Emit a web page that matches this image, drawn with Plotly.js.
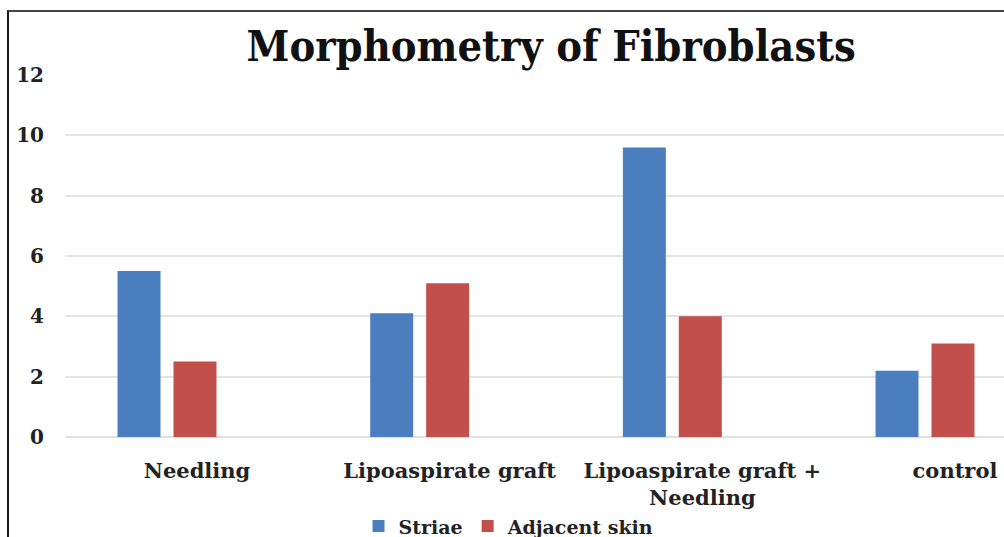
<!DOCTYPE html>
<html>
<head>
<meta charset="utf-8">
<script src="https://cdn.plot.ly/plotly-3.0.1.min.js"></script>
<style>
html,body{margin:0;padding:0;background:#fff;}
#wrap{position:relative;width:1004px;height:537px;overflow:hidden;}
#chart{position:absolute;left:0;top:0;width:1004px;height:537px;}
#frame{position:absolute;left:7px;top:10px;width:1010px;height:540px;border-left:2px solid #1a1a1a;border-top:2px solid #444;pointer-events:none;}
</style>
</head>
<body>
<div id="wrap"><div id="chart"></div><div id="frame"></div></div>
<script>
const categories = ["Needling", "Lipoaspirate graft", "Lipoaspirate graft +<br>Needling", "control"];
const striae = [5.5, 4.1, 9.6, 2.2];
const adjacentSkin = [2.5, 5.1, 4.0, 3.1];
const seriesNames = ["Striae", "Adjacent skin"];
const yTicks = [0, 2, 4, 6, 8, 10, 12];

const FONT = "DejaVu Serif, serif";
const TITLEFONT = "DejaVu Serif Condensed, DejaVu Serif, serif";

const traces = [
  {type: "bar", name: seriesNames[0], x: categories, y: striae, marker: {color: "#4a7ebf"}},
  {type: "bar", name: seriesNames[1], x: categories, y: adjacentSkin, marker: {color: "#c24f4c"}}
];

const layout = {
  width: 1004, height: 537,
  margin: {l: 65, r: 0, t: 75, b: 100},
  paper_bgcolor: "#ffffff", plot_bgcolor: "#ffffff",
  title: {text: "<b>Morphometry of Fibroblasts</b>", font: {family: TITLEFONT, size: 43, color: "#111"}, x: 0.549, xanchor: "center", y: 0.915, yanchor: "middle"},
  barmode: "group", bargap: 0.557, bargroupgap: 0.232,
  showlegend: true,
  legend: {orientation: "h", xref: "container", yref: "container", x: 0.507, xanchor: "center", y: 0.02, yanchor: "middle", font: {family: FONT, size: 19, color: "#222", weight: "bold"}, itemwidth: 30, traceorder: "normal"},
  xaxis: {type: "category", automargin: false, range: [-0.4037, 3.3127], showgrid: false, zeroline: false, showline: false, ticks: "", tickfont: {family: FONT, size: 21, color: "#222", weight: "bold"}, ticklabelshift: 30, ticklabelstandoff: 19, fixedrange: true},
  yaxis: {automargin: false, range: [0, 12], tickvals: yTicks, ticktext: yTicks.map(String), showgrid: true, gridcolor: "#e4e4e4", gridwidth: 2, zeroline: true, zerolinecolor: "#e0e0e0", zerolinewidth: 2, showline: false, ticks: "", tickfont: {family: FONT, size: 20, color: "#222", weight: "bold"}, ticklabelstandoff: 20, fixedrange: true}
};

Plotly.newPlot("chart", traces, layout, {displayModeBar: false, staticPlot: true});
</script>
</body>
</html>
